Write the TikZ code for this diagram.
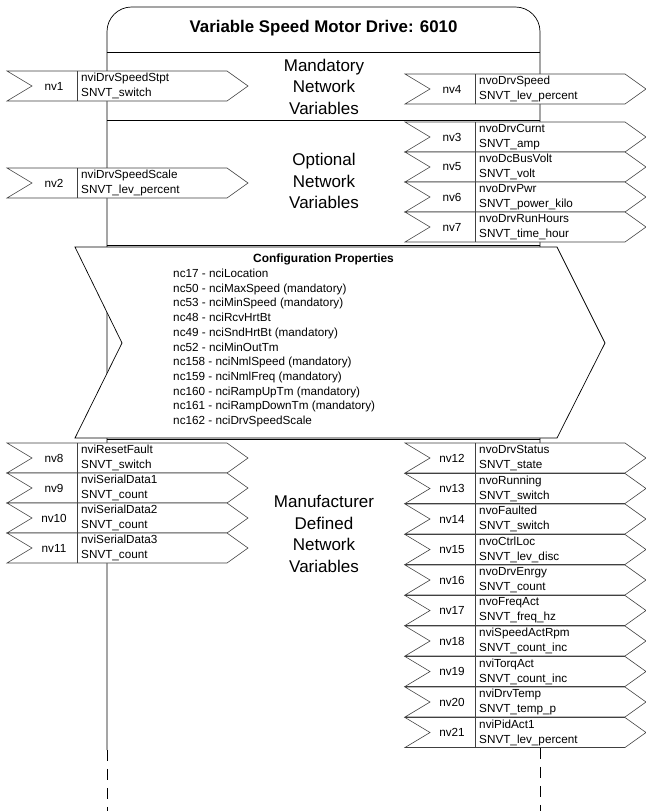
\documentclass[tikz,border=0pt]{standalone}
\usepackage{fontspec}
\setmainfont{Liberation Sans}
\usetikzlibrary{arrows, shapes, positioning}

\tikzset{
	nvline/.style={draw=black!75, fill=white, line width=0.5pt},
	nvnum/.style={font=\fontsize{10}{12}\selectfont, inner sep=0pt},
	nvtxt/.style={font=\fontsize{10}{12.75}\selectfont, align=left, anchor=west, inner sep=0pt},
	big/.style={font=\fontsize{14.5}{18.4}\selectfont, align=center},
	boxline/.style={draw=black, line width=0.6pt},
}

% #1 name, #2 x, #3 y, #4 nv, #5 variable, #6 type
\newcommand{\nvbox}[6]{
	\draw[nvline] (#2,#3) -- ++(220,0) -- ++(21,15) -- ++(-21,15) -- ++(-220,0) -- ++(25,-15) -- cycle;
	\draw[nvline] (#2+70,#3) -- ++(0,30);
	\node[nvnum] (#1num) at (#2+47,#3+15) {#4};
	\node[nvtxt] (#1txt) at (#2+74,#3+15) {#5\\#6};
}

\begin{document}
\begin{tikzpicture}[x=0.03cm, y=-0.03cm]
	\useasboundingbox (0,0) rectangle (646,811);

	%cadre
	\draw[boxline, rounded corners=21pt] (107,750) -- (107,7) -- (540,7) -- (540,748);
	\draw[boxline, dash pattern=on 9.4pt off 6.8pt] (107,750) -- (107,811);
	\draw[boxline, dash pattern=on 9.4pt off 6.8pt] (540,748) -- (540,811);
	\draw[boxline] (107,52) -- (540,52);
	\draw[boxline] (107,120) -- (540,120);
	\draw[boxline] (107,245) -- (540,245);
	\draw[boxline] (107,439) -- (540,439);

	\node[font=\fontsize{14.4}{17}\selectfont\bfseries] (title) at (323.5,28) {Variable Speed Motor Drive: 6010};
	\node[big] (mandatory) at (324,86.5) {Mandatory\\Network\\Variables};
	\node[big] (optional) at (324,181) {Optional\\Network\\Variables};
	\node[big] (manufacturer) at (324,534) {Manufacturer\\Defined\\Network\\Variables};

	%proprietes de configuration
	\draw[boxline, fill=white] (75,247) -- (557,247) -- (605,343) -- (557,438) -- (75,438) -- (122,343) -- cycle;
	\node[font=\fontsize{10.2}{12}\selectfont\bfseries] (cptitle) at (323.5,259) {Configuration Properties};
	\node[font=\fontsize{10}{12.55}\selectfont, align=left, anchor=west, inner sep=0pt] (cplist) at (173,348) {nc17 - nciLocation\\
		nc50 - nciMaxSpeed (mandatory)\\
		nc53 - nciMinSpeed (mandatory)\\
		nc48 - nciRcvHrtBt\\
		nc49 - nciSndHrtBt (mandatory)\\
		nc52 - nciMinOutTm\\
		nc158 - nciNmlSpeed (mandatory)\\
		nc159 - nciNmlFreq (mandatory)\\
		nc160 - nciRampUpTm (mandatory)\\
		nc161 - nciRampDownTm (mandatory)\\
		nc162 - nciDrvSpeedScale};

	%partie gauche
	\nvbox{nv1}{7}{71}{nv1}{nviDrvSpeedStpt}{SNVT\_switch}
	\nvbox{nv2}{7}{168}{nv2}{nviDrvSpeedScale}{SNVT\_lev\_percent}
	\nvbox{nv8}{7}{443}{nv8}{nviResetFault}{SNVT\_switch}
	\nvbox{nv9}{7}{473}{nv9}{nviSerialData1}{SNVT\_count}
	\nvbox{nv10}{7}{503}{nv10}{nviSerialData2}{SNVT\_count}
	\nvbox{nv11}{7}{533}{nv11}{nviSerialData3}{SNVT\_count}

	%partie droite
	\nvbox{nv4}{405}{74}{nv4}{nvoDrvSpeed}{SNVT\_lev\_percent}
	\nvbox{nv3}{405}{122}{nv3}{nvoDrvCurnt}{SNVT\_amp}
	\nvbox{nv5}{405}{152}{nv5}{nvoDcBusVolt}{SNVT\_volt}
	\nvbox{nv6}{405}{182}{nv6}{nvoDrvPwr}{SNVT\_power\_kilo}
	\nvbox{nv7}{405}{212}{nv7}{nvoDrvRunHours}{SNVT\_time\_hour}
	\nvbox{nv12}{405}{443}{nv12}{nvoDrvStatus}{SNVT\_state}
	\nvbox{nv13}{405}{473.5}{nv13}{nvoRunning}{SNVT\_switch}
	\nvbox{nv14}{405}{504}{nv14}{nvoFaulted}{SNVT\_switch}
	\nvbox{nv15}{405}{534.5}{nv15}{nvoCtrlLoc}{SNVT\_lev\_disc}
	\nvbox{nv16}{405}{565}{nv16}{nvoDrvEnrgy}{SNVT\_count}
	\nvbox{nv17}{405}{595.5}{nv17}{nvoFreqAct}{SNVT\_freq\_hz}
	\nvbox{nv18}{405}{626}{nv18}{nviSpeedActRpm}{SNVT\_count\_inc}
	\nvbox{nv19}{405}{656.5}{nv19}{nviTorqAct}{SNVT\_count\_inc}
	\nvbox{nv20}{405}{687}{nv20}{nviDrvTemp}{SNVT\_temp\_p}
	\nvbox{nv21}{405}{717.5}{nv21}{nviPidAct1}{SNVT\_lev\_percent}

\end{tikzpicture}
\end{document}
